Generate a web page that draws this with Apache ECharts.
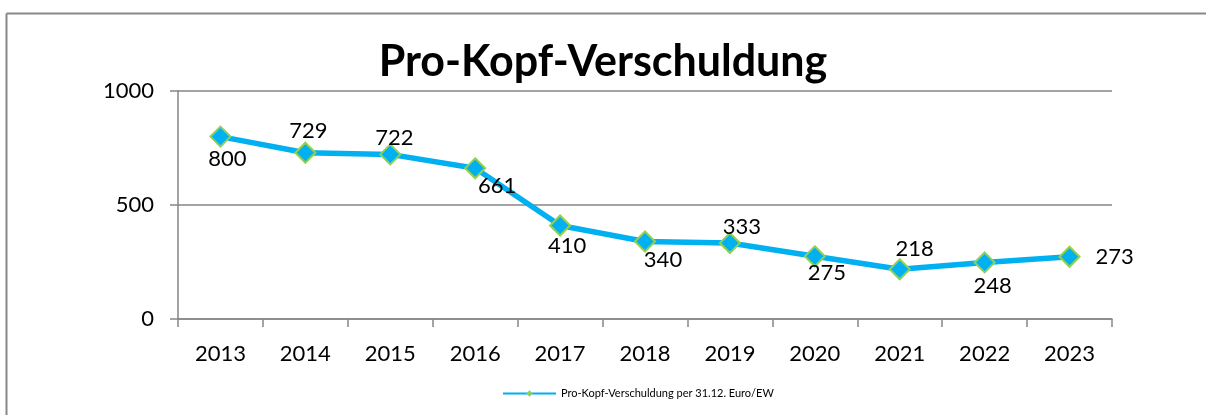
<!DOCTYPE html>
<html>
<head>
<meta charset="utf-8">
<script src="https://cdn.jsdelivr.net/npm/echarts@6/dist/echarts.min.js"></script>
<style>
html,body{margin:0;padding:0;background:#fff;overflow:hidden;}
#chart{width:1206px;height:415px;}
</style>
</head>
<body>
<div id="chart"></div>
<script>
const years = ['2013','2014','2015','2016','2017','2018','2019','2020','2021','2022','2023'];
const debtPerCapita = [800, 729, 722, 661, 410, 340, 333, 275, 218, 248, 273];
const yTicks = [0, 500, 1000];
const seriesName = 'Pro-Kopf-Verschuldung per 31.12. Euro/EW';
const titleText = 'Pro-Kopf-Verschuldung';

// label placement offsets (style only)
const labelOffsets = [[7,22],[3,-22],[4,-16],[22,18],[7,20],[18,18],[12,-16],[12,17],[15,-20],[8,23],[45,0]];

const chart = echarts.init(document.getElementById('chart'));
const FONT = 'Lato';
chart.setOption({
  animation:false,
  backgroundColor:'#fff',
  textStyle:{fontFamily:FONT},
  graphic:[
    {type:'line', silent:true, z:-1, shape:{x1:6.5,y1:13.5,x2:1206,y2:13.5}, style:{stroke:'#888888',lineWidth:2}},
    {type:'line', silent:true, z:-1, shape:{x1:6.5,y1:13.5,x2:6.5,y2:415}, style:{stroke:'#888888',lineWidth:2}}
  ],
  title:{
    text:titleText, left:'center', top:36,
    textStyle:{fontFamily:FONT,fontSize:43,fontWeight:'bold',color:'#000'}
  },
  legend:{
    left:497, top:383, itemWidth:53, itemHeight:8, itemGap:9,
    textStyle:{fontFamily:FONT,fontSize:11,color:'#000'},
    itemStyle:{color:'#92D050',borderColor:'#92D050',borderWidth:0},
    data:[seriesName]
  },
  grid:{left:178,right:94,top:91,bottom:96,containLabel:false},
  xAxis:{
    type:'category', data:years, boundaryGap:true,
    axisLine:{lineStyle:{color:'#868686',width:1.5}},
    axisTick:{show:true,length:8,alignWithLabel:false,lineStyle:{color:'#868686',width:1.5}},
    axisLabel:{fontFamily:FONT,fontSize:22,color:'#000',margin:24},
    splitLine:{show:false}
  },
  yAxis:{
    type:'value', min:yTicks[0], max:yTicks[yTicks.length-1], interval:yTicks[1]-yTicks[0],
    axisLine:{show:true,lineStyle:{color:'#868686',width:1.5}},
    axisTick:{show:true,length:8,lineStyle:{color:'#868686',width:1.5}},
    axisLabel:{fontFamily:FONT,fontSize:22,color:'#000',margin:24,formatter:v=>String(v)},
    splitLine:{show:true,lineStyle:{color:'#868686',width:1.5}}
  },
  series:[{
    name:seriesName, type:'line',
    data:debtPerCapita.map((v,i)=>({
      value:v,
      label:{show:true,position:'inside',offset:labelOffsets[i]}
    })),
    symbol:'diamond', symbolSize:20,
    lineStyle:{color:'#00B0F0',width:5.5},
    itemStyle:{color:'#00B0F0',borderColor:'#92D050',borderWidth:2},
    label:{fontFamily:FONT,fontSize:22,color:'#000'},
    z:3
  }]
});
</script>
</body>
</html>
